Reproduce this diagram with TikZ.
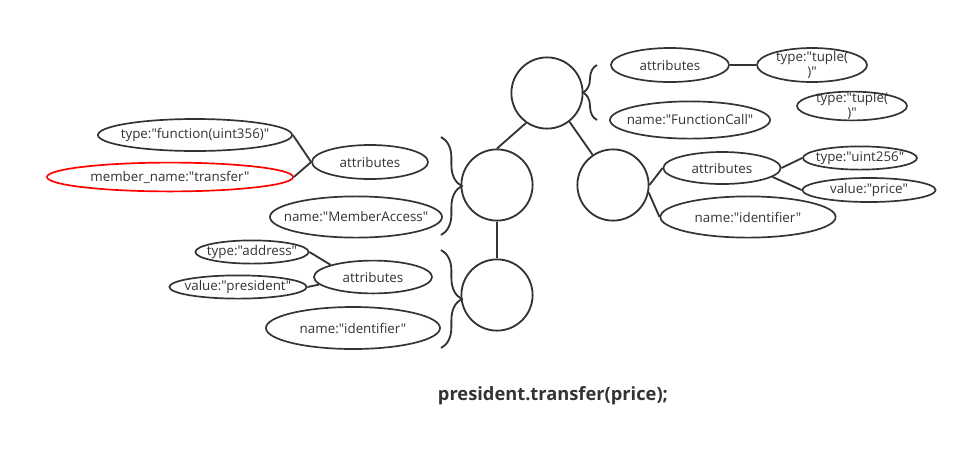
\documentclass[tikz,border=0pt]{standalone}
\usepackage{fontspec}
\setmainfont{Open Sans}[Ligatures=TeXOff]
\usetikzlibrary{shapes.geometric,decorations.pathreplacing}

\definecolor{linegray}{HTML}{333333}
\definecolor{textgray}{HTML}{333333}

\begin{document}
\begin{tikzpicture}[
    x=0.025cm, y=-0.025cm,
    treenode/.style={circle, draw=linegray, line width=1.3pt, minimum size=1.78cm, inner sep=0pt},
    prop/.style={ellipse, draw=linegray, line width=1.2pt, inner xsep=-12pt, inner ysep=-5pt, font=\fontsize{9.5}{11}\selectfont, text=textgray, align=center},
    propred/.style={prop, draw=red},
    link/.style={draw=linegray, line width=1.3pt},
    curly/.style={link, decorate, decoration={brace, amplitude=#1}},
    code/.style={font=\fontsize{13}{15}\selectfont\bfseries, text=textgray}
]
\useasboundingbox (0,0) rectangle (968,456);

% Nós da árvore
\node[treenode] (call) at (547,93) {};
\node[treenode] (member) at (497,185) {};
\node[treenode] (pres) at (497,295) {};
\node[treenode] (price) at (613,185) {};

% FunctionCall
\node[prop, minimum width=2.95cm, minimum height=0.85cm] (callattr) at (670,65) {attributes};
\node[prop, minimum width=4.0cm, minimum height=0.93cm] (callname) at (690,120) {name:"FunctionCall"};
\node[prop, minimum width=2.75cm, minimum height=0.85cm] (tupleA) at (812,65) {type:"tuple(\\)"};
\node[prop, minimum width=2.75cm, minimum height=0.72cm] (tupleB) at (852,106) {type:"tuple(\\)"};

% MemberAccess
\node[prop, minimum width=2.9cm, minimum height=0.85cm] (memattr) at (370,162) {attributes};
\node[prop, minimum width=4.3cm, minimum height=1.03cm] (memname) at (356,217) {name:"MemberAccess"};
\node[prop, minimum width=4.85cm, minimum height=0.8cm] (memtype) at (195,135) {type:"function(uint356)"};
\node[propred, minimum width=6.15cm, minimum height=0.72cm] (memfield) at (170,177) {member\_name:"transfer"};

% identifier president
\node[prop, minimum width=2.95cm, minimum height=0.82cm] (presattr) at (373,277) {attributes};
\node[prop, minimum width=4.35cm, minimum height=1.05cm] (presname) at (353,328) {name:"identifier"};
\node[prop, minimum width=2.83cm, minimum height=0.58cm] (prestype) at (252,252) {type:"address"};
\node[prop, minimum width=3.43cm, minimum height=0.58cm] (presval) at (238,287) {value:"president"};

% identifier price
\node[prop, minimum width=2.93cm, minimum height=0.8cm] (priceattr) at (722,168) {attributes};
\node[prop, minimum width=4.38cm, minimum height=1.03cm] (pricename) at (748,217) {name:"identifier"};
\node[prop, minimum width=2.85cm, minimum height=0.58cm] (pricetype) at (860,158) {type:"uint256"};
\node[prop, minimum width=3.33cm, minimum height=0.6cm] (priceval) at (869,190) {value:"price"};

% Código
\node[code] (source) at (553,396) {president.transfer(price);};

% Ligações da árvore
\draw[link] (call.-125) -- (member.north);
\draw[link] (call.-52) -- (price.124);
\draw[link] (member.south) -- (pres.north);

% Chaves
\coordinate (callA) at (597,120);
\coordinate (callB) at (597,65);
\draw[curly=0.35cm] (callA) -- (callB);
\coordinate (memA) at (441,137);
\coordinate (memB) at (441,235);
\draw[curly=0.52cm] (memA) -- (memB);
\coordinate (presA) at (441,250);
\coordinate (presB) at (441,348);
\draw[curly=0.52cm] (presA) -- (presB);

% Atributos
\draw[link] (callattr) -- (tupleA);
\draw[link] (memattr.west) -- (memtype.east);
\draw[link] (memattr.west) -- (memfield.east);
\draw[link] (presattr.164) -- (prestype.east);
\draw[link] (presattr.188) -- (presval.east);
\draw[link] (price.east) -- (priceattr.west);
\draw[link] (price.-12) -- (pricename.west);
\draw[link] (priceattr.east) -- (pricetype.west);
\draw[link] (priceattr.-10) -- (priceval.west);

\end{tikzpicture}
\end{document}
